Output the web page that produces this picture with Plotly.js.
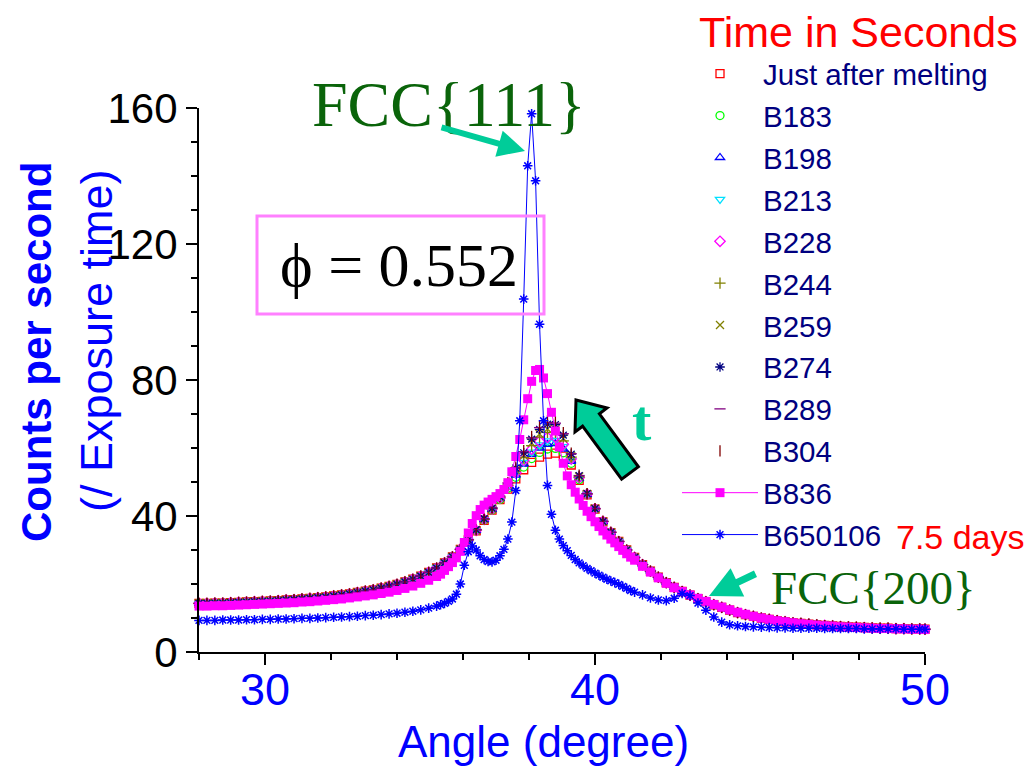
<!DOCTYPE html>
<html><head><meta charset="utf-8">
<script src="https://cdn.plot.ly/plotly-3.0.1.min.js"></script>
<style>html,body{margin:0;padding:0;background:#fff}#chart{width:1030px;height:767px}</style>
</head><body><div id="chart"></div>
<script>
// ---------- DATA ----------
const seriesNames = ['Just after melting','B183','B198','B213','B228','B244','B259','B274','B289','B304','B836','B650106'];

// angle grid for the ten early scans
const xGroup = [28.00,28.24,28.48,28.72,28.96,29.20,29.44,29.68,29.92,30.16,30.40,30.64,30.88,31.12,31.36,31.60,31.84,32.08,32.32,32.56,32.80,33.04,33.28,33.52,33.76,34.00,34.24,34.48,34.72,34.96,35.20,35.44,35.68,35.92,36.16,
  36.40,36.64,36.88,37.12,37.36,37.60,37.84,38.08,38.32,38.56,38.80,39.04,39.28,39.52,39.76,40.00,40.24,40.48,
  40.72,40.96,41.20,41.44,41.68,41.92,42.16,42.40,42.64,42.88,43.12,43.36,43.60,43.84,44.08,44.32,44.56,44.80,45.04,45.28,45.52,45.76,46.00,46.24,46.48,46.72,46.96,47.20,47.44,47.68,47.92,48.16,48.40,48.64,48.88,49.12,49.36,49.60,49.84,50.00];

// the early scans coincide in the tails
const groupLeftTail = [14.3,14.3,14.4,14.4,14.5,14.6,14.7,14.8,14.9,15.0,15.1,15.3,15.4,15.6,15.8,16.0,16.2,16.5,16.8,17.1,17.5,17.9,18.3,18.8,19.3,19.9,20.6,21.4,22.3,23.4,24.7,26.2,28.0,30.2,33.0];
const groupRightTail = [32.5,30.0,27.8,25.7,23.8,22.0,20.4,19.0,17.8,16.7,15.7,14.8,13.9,13.1,12.3,11.6,11.0,10.5,10.0,9.6,9.2,8.9,8.6,8.4,8.2,8.0,7.8,7.7,7.5,7.4,7.3,7.2,7.1,7.0,7.0,6.9,6.9,6.8,6.8,6.7];

// peak region (36.40 .. 40.48) for each early scan
const peakJustAfter = [35.6,38.7,41.7,44.8,47.9,50.9,53.6,55.8,57.3,58.2,58.5,57.6,55.0,50.5,46.2,42.0,38.3,35.1];
const peakB183 = [35.7,38.8,41.8,44.9,48.2,51.4,54.4,56.9,58.7,59.7,59.9,58.6,55.5,50.7,46.3,42.0,38.3,35.1];
const peakB198 = [35.7,38.9,41.9,45.1,48.5,52.0,55.3,58.1,60.0,61.1,61.3,59.7,56.1,51.0,46.3,42.1,38.3,35.1];
const peakB213 = [35.8,38.9,42.0,45.2,48.7,52.3,55.8,58.8,60.9,62.1,62.2,60.4,56.4,51.1,46.4,42.1,38.3,35.1];
const peakB228 = [35.8,39.0,42.1,45.3,48.9,52.7,56.4,59.6,61.9,63.1,63.2,61.1,56.8,51.3,46.4,42.1,38.4,35.2];
const peakB244 = [35.9,39.0,42.2,45.5,49.1,53.2,57.2,60.7,63.2,64.6,64.6,62.1,57.3,51.5,46.5,42.1,38.4,35.2];
const peakB259 = [35.9,39.1,42.2,45.6,49.3,53.5,57.8,61.5,64.1,65.6,65.5,62.8,57.6,51.6,46.5,42.2,38.4,35.2];
const peakB274 = [36.0,39.2,42.3,45.7,49.6,54.1,58.6,62.6,65.5,67.0,66.9,63.8,58.2,51.9,46.6,42.2,38.4,35.2];
const peakB289 = [36.0,39.2,42.4,45.8,49.7,54.2,58.9,63.0,66.0,67.5,67.3,64.2,58.3,51.9,46.6,42.2,38.4,35.2];
const peakB304 = [36.0,39.2,42.4,45.8,49.8,54.4,59.2,63.4,66.4,68.0,67.8,64.5,58.5,52.0,46.6,42.2,38.4,35.2];

// finer angle grid for B836 and B650106
const xFine = [28.00,28.24,28.48,28.72,28.96,29.20,29.44,29.68,29.92,30.16,30.40,30.64,30.88,31.12,31.36,31.60,31.84,32.08,32.32,32.56,32.80,33.04,33.28,33.52,33.76,34.00,34.24,34.48,34.72,34.96,35.20,
  35.32,35.44,35.56,35.68,35.80,35.92,36.04,36.16,36.28,36.40,36.52,36.64,36.76,36.88,37.00,37.12,37.24,37.36,37.48,37.60,37.72,37.84,37.96,38.08,38.20,38.32,38.44,38.56,38.68,38.80,38.92,39.04,39.16,39.28,39.40,39.52,39.64,39.76,39.88,40.00,40.12,40.24,40.36,40.48,40.60,40.72,40.84,40.96,41.08,41.20,
  41.44,41.68,41.92,42.16,42.40,42.64,42.88,43.12,43.36,43.60,43.84,44.08,44.32,44.56,44.80,45.04,45.28,45.52,45.76,46.00,46.24,46.48,46.72,46.96,47.20,47.44,47.68,47.92,48.16,48.40,48.64,48.88,49.12,49.36,49.60,49.84,50.00];

const yB836 = [13.5,13.5,13.6,13.6,13.7,13.8,13.9,14.0,14.1,14.2,14.3,14.4,14.5,14.7,14.8,15.0,15.2,15.4,15.6,15.9,16.2,16.5,16.8,17.2,17.6,18.1,18.7,19.4,20.2,21.1,22.2,
  22.9,24.0,25.1,26.3,27.7,29.6,32.2,35.0,37.8,40.1,41.9,43.2,44.1,44.9,45.7,46.6,47.8,49.8,53.0,57.5,62.5,68.3,74.5,79.6,82.8,83.1,80.6,76.0,70.5,65.0,60.3,55.5,51.8,49.2,47.0,45.0,43.1,41.4,39.8,38.3,36.9,35.6,34.4,33.2,32.1,31.0,29.9,28.9,27.9,27.0,
  25.2,23.5,21.8,20.2,18.9,17.8,16.8,15.8,14.9,14.0,13.2,12.4,11.7,11.1,10.5,10.0,9.6,9.2,8.9,8.6,8.3,8.1,7.9,7.7,7.6,7.4,7.3,7.2,7.1,7.0,6.9,6.9,6.8,6.8,6.7,6.7,6.6];

const yB650106 = [9.3,9.3,9.3,9.4,9.4,9.4,9.5,9.5,9.6,9.6,9.7,9.7,9.8,9.9,9.9,10.0,10.1,10.2,10.3,10.4,10.5,10.7,10.8,11.0,11.2,11.4,11.7,12.0,12.4,12.9,13.5,
  13.9,14.3,14.9,15.6,17.0,20.0,25.5,29.5,31.2,30.0,28.3,27.2,26.6,26.5,27.0,28.3,30.2,33.2,38.2,47.5,68.0,103.8,143.0,158.3,138.6,96.4,68.0,49.0,40.5,35.8,33.2,31.3,29.8,28.4,27.2,26.2,25.4,24.6,23.9,23.2,22.6,22.0,21.4,20.9,20.4,19.9,19.3,18.7,18.1,17.6,
  16.8,15.9,15.3,15.1,15.8,17.2,16.6,14.4,12.3,10.3,8.8,8.0,7.7,7.5,7.4,7.3,7.2,7.1,7.1,7.0,7.0,7.0,7.0,6.9,6.9,6.9,6.9,6.9,6.8,6.8,6.8,6.8,6.8,6.7,6.7,6.7,6.7];

const xTickVals = [30, 40, 50];
const yTickVals = [0, 40, 80, 120, 160];

// ---------- STYLES ----------
const groupPeaks = [peakJustAfter,peakB183,peakB198,peakB213,peakB228,peakB244,peakB259,peakB274,peakB289,peakB304];
const groupStyles = [
  {symbol:'square-open', color:'#ff0000'},
  {symbol:'circle-open', color:'#00ff00'},
  {symbol:'triangle-up-open', color:'#0000ff'},
  {symbol:'triangle-down-open', color:'#00e0ff'},
  {symbol:'diamond-open', color:'#ff00ff'},
  {symbol:'cross-thin-open', color:'#808000'},
  {symbol:'x-thin-open', color:'#808000'},
  {symbol:'asterisk-open', color:'#000080'},
  {symbol:'line-ew-open', color:'#800080'},
  {symbol:'line-ns-open', color:'#800000'}
];

const traces = [];
groupPeaks.forEach((pk, i) => {
  traces.push({
    type:'scatter', mode:'markers', name: seriesNames[i], legendgroup: seriesNames[i],
    x: xGroup, y: groupLeftTail.concat(pk, groupRightTail),
    marker:{symbol: groupStyles[i].symbol, size:8, color: groupStyles[i].color, line:{width:1.3, color: groupStyles[i].color}},
    cliponaxis:false
  });
});
traces.push({
  type:'scatter', mode:'lines+markers', name: seriesNames[10], legendgroup: seriesNames[10],
  x: xFine, y: yB836,
  line:{color:'#ff00ff', width:1},
  marker:{symbol:'square', size:9, color:'#ff00ff'},
  cliponaxis:false
});
traces.push({
  type:'scatter', mode:'lines+markers', name: seriesNames[11], legendgroup: seriesNames[11],
  x: xFine, y: yB650106,
  line:{color:'#0000ff', width:1},
  marker:{symbol:'asterisk-open', size:8, color:'#0000ff', line:{width:1.5, color:'#0000ff'}},
  cliponaxis:false
});

// ---------- LAYOUT ----------
const L = 199, R = 925, T = 108, B = 652;
const px = v => (v - L) / (R - L);
const py = v => (B - v) / (B - T);
const sans = 'Liberation Sans, Arial, sans-serif';
const serif = 'Liberation Serif, Times New Roman, serif';
const teal = '#00cc99';
const dkgreen = '#0a640a';

// block arrow for "t"
const arrowPts = [[576,400],[607,408],[599.4,413.8],[638.4,466.8],[621.6,479.2],[582.6,426.2],[575,432]];
const arrowPath = 'M' + arrowPts.map(p => px(p[0]).toFixed(5) + ',' + py(p[1]).toFixed(5)).join(' L') + ' Z';

const layout = {
  width:1030, height:767,
  margin:{l:L, r:1030-R, t:T, b:767-B, pad:0},
  paper_bgcolor:'#ffffff', plot_bgcolor:'#ffffff',
  showlegend:true,
  xaxis:{
    range:[28,50], tickmode:'array', tickvals:xTickVals, ticktext:xTickVals.map(String),
    ticks:'outside', ticklen:11, tickwidth:2, tickcolor:'#000',
    showline:true, linewidth:2, linecolor:'#000', showgrid:false, zeroline:false,
    tickfont:{family:sans, size:45, color:'#0000ff'}, ticklabelstandoff:-14,
    minor:{dtick:2, tick0:28, ticks:'outside', ticklen:6, tickwidth:2, tickcolor:'#000', showgrid:false}
  },
  yaxis:{
    range:[0,160], tickmode:'array', tickvals:yTickVals, ticktext:yTickVals.map(String),
    ticks:'outside', ticklen:11, tickwidth:2, tickcolor:'#000',
    showline:true, linewidth:2, linecolor:'#000', showgrid:false, zeroline:false,
    tickfont:{family:sans, size:42, color:'#000'},
    minor:{dtick:10, tick0:0, ticks:'outside', ticklen:6, tickwidth:2, tickcolor:'#000', showgrid:false}
  },
  legend:{
    x:px(677), y:py(48), xanchor:'left', yanchor:'top',
    bgcolor:'rgba(0,0,0,0)', borderwidth:0,
    font:{family:sans, size:29.5, color:'#000080'},
    itemwidth:76, traceorder:'grouped', tracegroupgap:0.55, maxheight:740
  },
  shapes:[
    {type:'rect', xref:'paper', yref:'paper', x0:px(257), x1:px(544), y0:py(314), y1:py(216),
     line:{color:'#ff80ff', width:3}, fillcolor:'rgba(0,0,0,0)', layer:'above'},
    {type:'path', xref:'paper', yref:'paper', path:arrowPath, fillcolor:teal, line:{color:'#000', width:3}, layer:'above'}
  ],
  annotations:[
    {xref:'paper', yref:'paper', x:px(697), y:py(32), xanchor:'left', yanchor:'middle', showarrow:false,
     text:'Time in Seconds', font:{family:sans, size:43, color:'#ff0000'}},
    {xref:'paper', yref:'paper', x:px(894), y:py(537), xanchor:'left', yanchor:'middle', showarrow:false,
     text:'7.5 days', font:{family:sans, size:34, color:'#ff0000'}},
    {xref:'paper', yref:'paper', x:px(449), y:py(104), xanchor:'center', yanchor:'middle', showarrow:false,
     text:'FCC{111}', font:{family:serif, size:64, color:dkgreen}},
    {xref:'paper', yref:'paper', x:px(873), y:py(588), xanchor:'center', yanchor:'middle', showarrow:false,
     text:'FCC{200}', font:{family:serif, size:47, color:dkgreen}},
    {xref:'paper', yref:'paper', x:px(642), y:py(420), xanchor:'center', yanchor:'middle', showarrow:false,
     text:'<b>t</b>', font:{family:serif, size:58, color:teal}},
    {xref:'paper', yref:'paper', x:px(399), y:py(265), xanchor:'center', yanchor:'middle', showarrow:false,
     text:'\u03D5 = 0.552', font:{family:serif, size:62, color:'#000'}},
    // axis titles
    {xref:'paper', yref:'paper', x:px(543), y:py(741), xanchor:'center', yanchor:'middle', showarrow:false,
     text:'Angle (degree)', font:{family:sans, size:44, color:'#0000ff'}},
    {xref:'paper', yref:'paper', x:px(36), y:py(352), xanchor:'center', yanchor:'middle', showarrow:false, textangle:-90,
     text:'<b>Counts per second</b>', font:{family:sans, size:42, color:'#0000ff'}},
    {xref:'paper', yref:'paper', x:px(96), y:py(341), xanchor:'center', yanchor:'middle', showarrow:false, textangle:-90,
     text:'(/ Exposure time)', font:{family:sans, size:45, color:'#0000ff'}},
    // arrow to FCC{111}
    {xref:'paper', yref:'paper', x:px(525), y:py(151), showarrow:true, axref:'pixel', ayref:'pixel', ax:-85, ay:-24,
     arrowhead:2, arrowsize:0.9, arrowwidth:6, arrowcolor:teal, text:''},
    // arrow to FCC{200}
    {xref:'paper', yref:'paper', x:px(709), y:py(596), showarrow:true, axref:'pixel', ayref:'pixel', ax:48, ay:-23,
     arrowhead:2, arrowsize:0.9, arrowwidth:7, arrowcolor:teal, text:''}
  ]
};

Plotly.newPlot('chart', traces, layout, {displayModeBar:false, staticPlot:true});
</script></body></html>
